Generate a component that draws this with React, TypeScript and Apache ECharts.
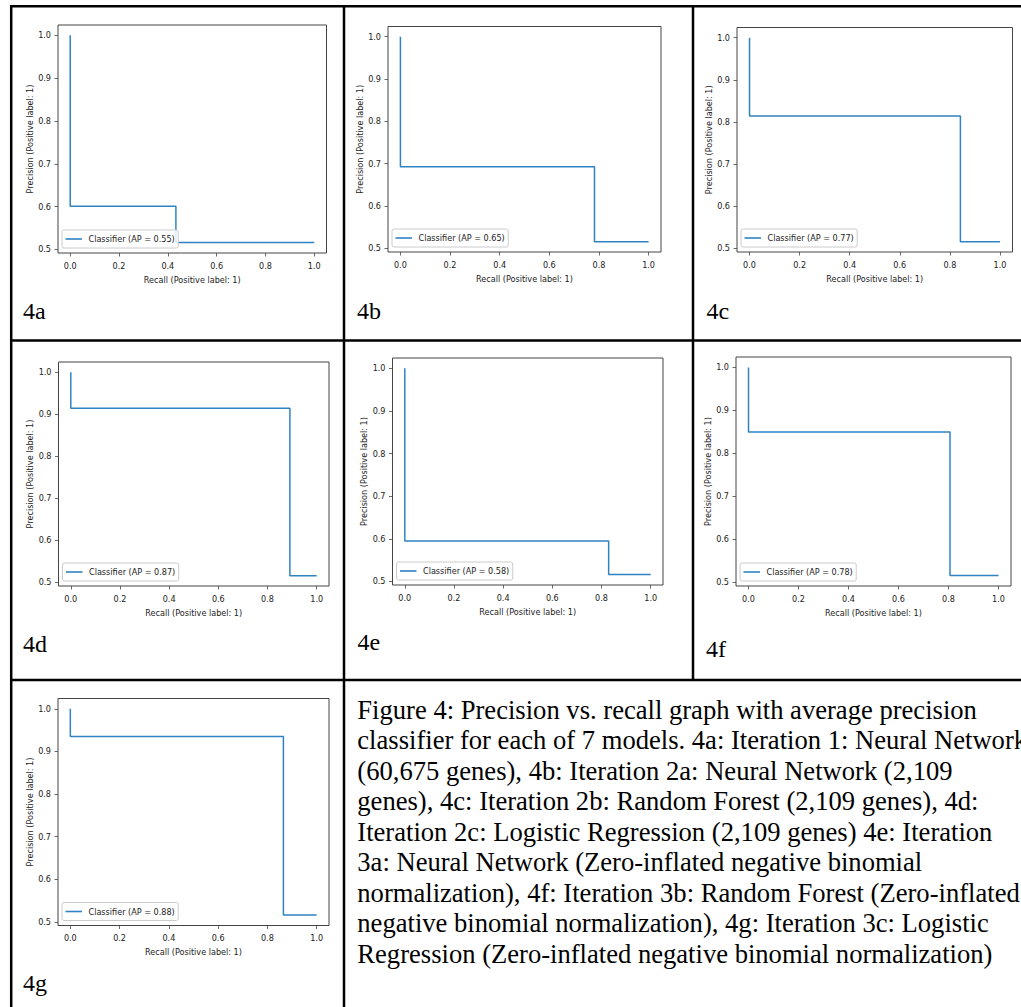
import React, { useEffect, useRef } from "react";
import * as echarts from "echarts";

// ---------- data ----------
const panelLabels = ["4a", "4b", "4c", "4d", "4e", "4f", "4g"];
const apValues = [0.55, 0.65, 0.77, 0.87, 0.58, 0.78, 0.88];
const plateauPrecision = [0.601, 0.693, 0.814, 0.914, 0.595, 0.85, 0.935];
const dropRecall = [0.433, 0.782, 0.842, 0.891, 0.829, 0.806, 0.865];
const startPrecision = 1.0;
const basePrecision = 0.516;
const xTicks = [0, 0.2, 0.4, 0.6, 0.8, 1.0];
const yTicks = [0.5, 0.6, 0.7, 0.8, 0.9, 1.0];
const xLabel = "Recall (Positive label: 1)";
const yLabel = "Precision (Positive label: 1)";
const captionLines = [
  "Figure 4: Precision vs. recall graph with average precision",
  "classifier for each of 7 models. 4a: Iteration 1: Neural Network",
  "(60,675 genes), 4b: Iteration 2a: Neural Network (2,109",
  "genes), 4c: Iteration 2b: Random Forest (2,109 genes), 4d:",
  "Iteration 2c: Logistic Regression (2,109 genes) 4e: Iteration",
  "3a: Neural Network (Zero-inflated negative binomial",
  "normalization), 4f: Iteration 3b: Random Forest (Zero-inflated",
  "negative binomial normalization), 4g: Iteration 3c: Logistic",
  "Regression (Zero-inflated negative binomial normalization)",
];

// ---------- layout ----------
const W = 1021;
const H = 1007;
const frames = [
  { left: 58, top: 25, width: 268.5, height: 228 },
  { left: 388, top: 26.5, width: 273, height: 225.5 },
  { left: 737, top: 27.5, width: 275.5, height: 224.5 },
  { left: 58.5, top: 362, width: 270.5, height: 224 },
  { left: 392.5, top: 358, width: 270.5, height: 227 },
  { left: 736, top: 357, width: 275, height: 229 },
  { left: 58, top: 698.5, width: 271, height: 227 },
];
const labelPos = [
  [23, 310.5],
  [357, 310.5],
  [706.5, 310.5],
  [23, 643.5],
  [357.5, 642],
  [706, 648.5],
  [23, 983],
];
const borderLines = [
  [10, 6.2, W, 6.2],
  [10, 340.5, W, 340.5],
  [10, 680, W, 680],
  [11.2, 5, 11.2, H],
  [344, 5, 344, H],
  [693, 5, 693, 680],
];

const TICK_FONT = "'DejaVu Sans Condensed', 'Liberation Sans Narrow', 'DejaVu Sans', sans-serif";
const SERIF = "'Liberation Serif', 'Times New Roman', serif";
const LINE_COLOR = "#2f83c2";

export default function App() {
  const ref = useRef<HTMLDivElement>(null);

  useEffect(() => {
    document.body.style.margin = "0";
    if (!ref.current) return;
    const chart = echarts.init(ref.current, undefined, { renderer: "svg", width: W, height: H });

    const names = apValues.map((ap) => `Classifier (AP = ${ap.toFixed(2)})`);

    const grids = frames.map((f) => ({
      left: f.left,
      top: f.top,
      width: f.width,
      height: f.height,
      show: true,
      borderColor: "#444",
      borderWidth: 1,
      backgroundColor: "#fff",
      containLabel: false,
    }));

    const xAxes = frames.map((_, i) => ({
      type: "value",
      gridIndex: i,
      min: -0.05,
      max: 1.05,
      position: "bottom",
      name: xLabel,
      nameLocation: "middle",
      nameGap: 22,
      nameTextStyle: { fontFamily: TICK_FONT, fontSize: 9, color: "#222" },
      axisLine: { show: false, onZero: false },
      splitLine: { show: false },
      axisTick: {
        show: true,
        length: 3.5,
        customValues: xTicks,
        lineStyle: { color: "#444", width: 0.8 },
      },
      axisLabel: {
        customValues: xTicks,
        margin: 8,
        fontFamily: TICK_FONT,
        fontSize: 9,
        color: "#222",
        formatter: (v: number) => v.toFixed(1),
      },
    }));

    const yAxes = frames.map((_, i) => ({
      type: "value",
      gridIndex: i,
      min: 0.4915,
      max: 1.0242,
      position: "left",
      name: yLabel,
      nameLocation: "middle",
      nameGap: 22,
      nameTextStyle: { fontFamily: TICK_FONT, fontSize: 9, color: "#222" },
      axisLine: { show: false, onZero: false },
      splitLine: { show: false },
      axisTick: {
        show: true,
        length: 3.5,
        customValues: yTicks,
        lineStyle: { color: "#444", width: 0.8 },
      },
      axisLabel: {
        customValues: yTicks,
        margin: 7,
        fontFamily: TICK_FONT,
        fontSize: 9,
        color: "#222",
        formatter: (v: number) => v.toFixed(1),
      },
    }));

    const series = apValues.map((_, i) => ({
      type: "line",
      name: names[i],
      xAxisIndex: i,
      yAxisIndex: i,
      symbol: "none",
      showSymbol: false,
      lineStyle: { color: LINE_COLOR, width: 1.5 },
      itemStyle: { color: LINE_COLOR },
      data: [
        [0, startPrecision],
        [0, plateauPrecision[i]],
        [dropRecall[i], plateauPrecision[i]],
        [dropRecall[i], basePrecision],
        [1, basePrecision],
      ],
    }));

    const legends = frames.map((f, i) => ({
      data: [{ name: names[i], icon: "rect" }],
      left: f.left + 4,
      top: f.top + f.height - 4.5 - 18.5,
      orient: "horizontal",
      padding: [3.5, 3.5, 3.5, 3.5],
      itemWidth: 16.5,
      itemHeight: 1.6,
      itemGap: 0,
      itemStyle: { color: LINE_COLOR, borderWidth: 0 },
      borderColor: "#cccccc",
      borderWidth: 1,
      borderRadius: 2,
      backgroundColor: "rgba(255,255,255,0.85)",
      textStyle: {
        fontFamily: TICK_FONT,
        fontSize: 9,
        lineHeight: 11,
        color: "#222",
        padding: [0, 0, 0, 1.5],
      },
      selectedMode: false,
    }));

    const graphics: any[] = [];
    borderLines.forEach(([x1, y1, x2, y2]) => {
      graphics.push({
        type: "line",
        shape: { x1, y1, x2, y2 },
        style: { stroke: "#000", lineWidth: 2.5 },
        z: 10,
      });
    });
    panelLabels.forEach((lab, i) => {
      graphics.push({
        type: "text",
        x: labelPos[i][0],
        y: labelPos[i][1],
        style: {
          text: lab,
          fontFamily: SERIF,
          fontSize: 24,
          fill: "#000",
          align: "left",
          verticalAlign: "middle",
        },
      });
    });
    captionLines.forEach((line, i) => {
      graphics.push({
        type: "text",
        x: 357.3,
        y: 709.5 + 30.5 * i,
        style: {
          text: line,
          fontFamily: SERIF,
          fontSize: 26.6,
          fill: "#000",
          align: "left",
          verticalAlign: "middle",
        },
      });
    });

    chart.setOption({
      animation: false,
      backgroundColor: "#fff",
      grid: grids,
      xAxis: xAxes,
      yAxis: yAxes,
      legend: legends,
      series,
      graphic: graphics,
    });

    return () => chart.dispose();
  }, []);

  return (
    <div
      ref={ref}
      style={{ position: "absolute", left: 0, top: 0, width: W, height: H, background: "#fff" }}
    />
  );
}
